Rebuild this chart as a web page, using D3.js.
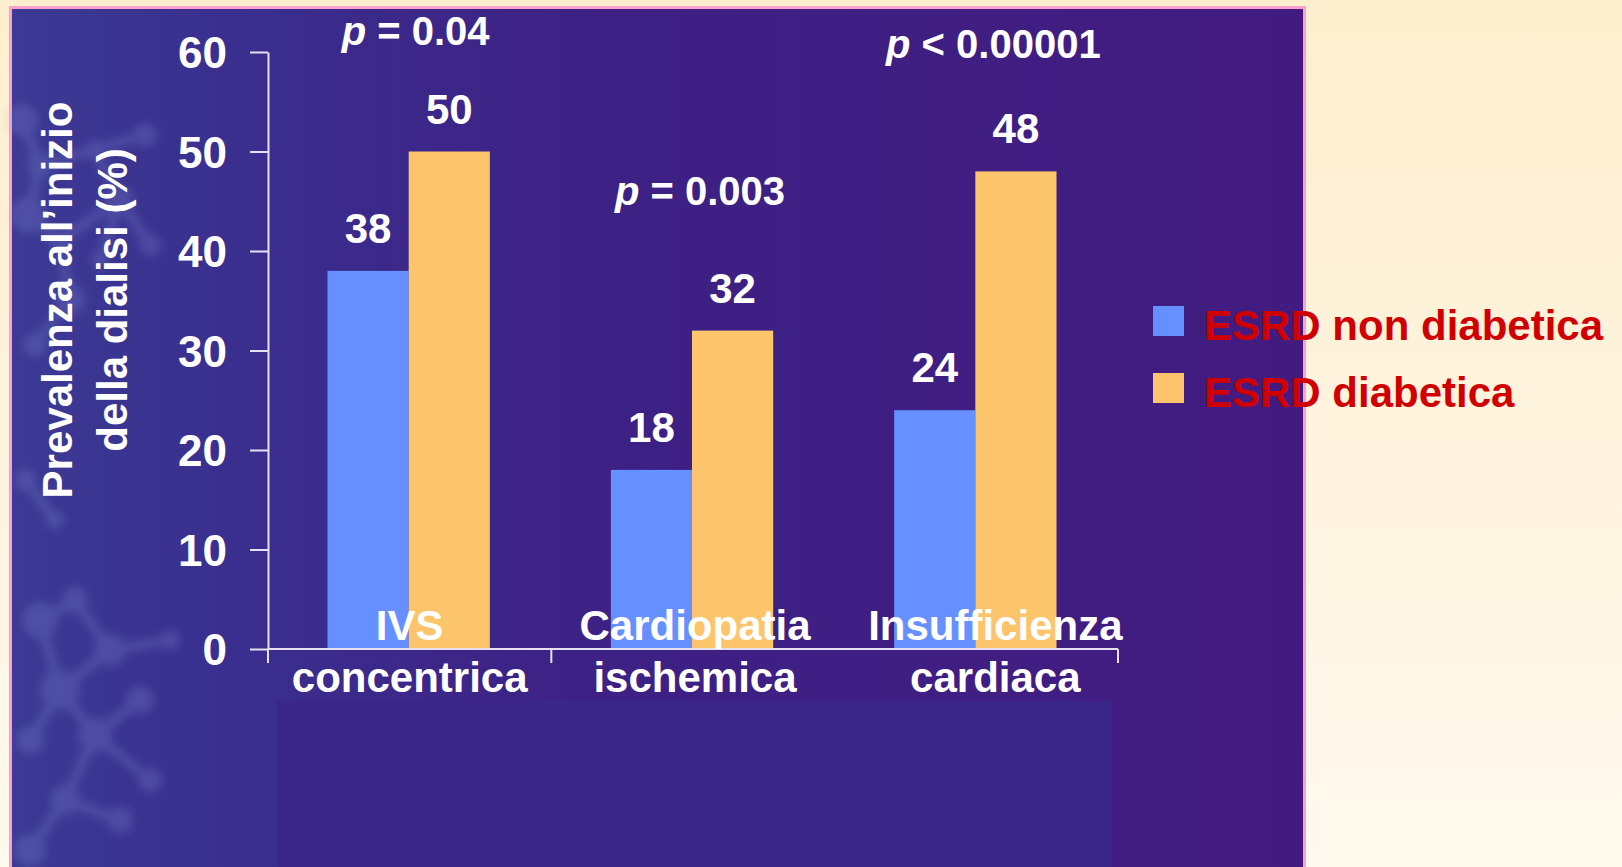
<!DOCTYPE html>
<html>
<head>
<meta charset="utf-8">
<script src="https://cdn.jsdelivr.net/npm/d3@7"></script>
<style>
  html, body { margin: 0; padding: 0; overflow: hidden; background: #fff5e0; }
  svg { display: block; }
  text { font-family: "Liberation Sans", Arial, Helvetica, sans-serif; font-weight: bold; }
</style>
</head>
<body>
<svg id="chart" width="1622" height="867"></svg>
<script>
// ---- data ----
const categories = ["IVS concentrica", "Cardiopatia ischemica", "Insufficienza cardiaca"];
const categoryLines = [["IVS", "concentrica"], ["Cardiopatia", "ischemica"], ["Insufficienza", "cardiaca"]];
const seriesNames = ["ESRD non diabetica", "ESRD diabetica"];
const nonDiabetic = [38, 18, 24];
const diabetic = [50, 32, 48];
const pValues = ["= 0.04", "= 0.003", "< 0.00001"];
const yTicks = [0, 10, 20, 30, 40, 50, 60];
const yTitle = ["Prevalenza all\u2019inizio", "della dialisi (%)"];

// ---- layout ----
const W = 1622, H = 867;
const panel = { x: 12, y: 9, w: 1291, h: H - 9 };
const plot = { left: 268, right: 1118, top: 52, bottom: 649 };
const seriesColors = ["#6690ff", "#fcc46b"];
const axisColor = "#e6e0f0";
const pLabelPos = [{ dx: 6, y: 45 }, { dx: 7, y: 205 }, { dx: 17, y: 58 }];
const catLabelDx = [0, 2, 19];

const svg = d3.select("#chart");
const defs = svg.append("defs");

// page background: warm cream gradient
const bgGrad = defs.append("linearGradient").attr("id", "pageBg")
  .attr("x1", 0).attr("y1", 0).attr("x2", 0).attr("y2", 1);
bgGrad.append("stop").attr("offset", "0%").attr("stop-color", "#fdeecd");
bgGrad.append("stop").attr("offset", "100%").attr("stop-color", "#fff9ee");
svg.append("rect").attr("width", W).attr("height", H).attr("fill", "url(#pageBg)");

// purple slide panel, bluer on the left
const panelGrad = defs.append("linearGradient").attr("id", "panelBg")
  .attr("x1", 0).attr("y1", 0).attr("x2", 1).attr("y2", 0);
panelGrad.append("stop").attr("offset", "0%").attr("stop-color", "#3b3a94");
panelGrad.append("stop").attr("offset", "18%").attr("stop-color", "#3a2e8e");
panelGrad.append("stop").attr("offset", "45%").attr("stop-color", "#3d2184");
panelGrad.append("stop").attr("offset", "100%").attr("stop-color", "#421b80");

svg.append("rect")
  .attr("x", panel.x - 3).attr("y", panel.y - 3)
  .attr("width", panel.w + 6).attr("height", panel.h + 6)
  .attr("fill", "#ff9fcc");
svg.append("rect")
  .attr("x", panel.x).attr("y", panel.y)
  .attr("width", panel.w).attr("height", panel.h)
  .attr("fill", "url(#panelBg)");

// faint molecule texture along the left edge of the panel
const blur = defs.append("filter").attr("id", "soft");
blur.append("feGaussianBlur").attr("stdDeviation", 4);
const atoms = [
  [22, 120, 16], [40, 165, 13], [28, 215, 18], [60, 240, 11], [95, 150, 10], [145, 135, 12],
  [120, 200, 14], [70, 300, 15], [35, 345, 12], [100, 260, 9], [150, 245, 11],
  [40, 620, 18], [75, 600, 13], [110, 650, 16], [60, 690, 20], [30, 740, 14],
  [95, 735, 17], [140, 700, 14], [150, 780, 12], [65, 800, 15], [120, 820, 13],
  [30, 850, 16], [170, 640, 10], [25, 480, 11], [55, 520, 9]
];
const bonds = [
  [0, 1], [1, 2], [2, 3], [1, 4], [4, 5], [4, 6], [3, 6], [3, 7], [7, 8], [6, 9], [6, 10],
  [11, 12], [12, 13], [11, 14], [13, 14], [14, 15], [14, 16], [16, 17], [16, 18], [16, 19],
  [19, 20], [19, 21], [13, 22], [23, 24]
];
const texture = svg.append("g").attr("filter", "url(#soft)").attr("opacity", 0.2);
texture.selectAll("line").data(bonds).join("line")
  .attr("x1", d => atoms[d[0]][0]).attr("y1", d => atoms[d[0]][1])
  .attr("x2", d => atoms[d[1]][0]).attr("y2", d => atoms[d[1]][1])
  .attr("stroke", "#9aa6e6").attr("stroke-width", 10);
texture.selectAll("circle").data(atoms).join("circle")
  .attr("cx", d => d[0]).attr("cy", d => d[1]).attr("r", d => d[2])
  .attr("fill", "#9aa6e6");

// slightly lighter block under the category labels
svg.append("rect")
  .attr("x", 277).attr("y", 701).attr("width", 835).attr("height", H - 701)
  .attr("fill", "#3a2589");

// ---- scales ----
const y = d3.scaleLinear().domain([0, 60]).range([plot.bottom, plot.top]);
const x0 = d3.scaleBand().domain(categories).range([plot.left, plot.right]).padding(0);
const bw = x0.bandwidth();
const x1 = d3.scaleBand().domain(seriesNames).range([bw * 0.21, bw * 0.783]).padding(0);
const color = d3.scaleOrdinal().domain(seriesNames).range(seriesColors);

const rows = categories.map((c, i) => ({
  cat: c,
  values: [
    { series: seriesNames[0], value: nonDiabetic[i] },
    { series: seriesNames[1], value: diabetic[i] }
  ]
}));

// ---- bars ----
const groups = svg.append("g").selectAll("g").data(rows).join("g")
  .attr("transform", d => `translate(${x0(d.cat)},0)`);

groups.selectAll("rect").data(d => d.values).join("rect")
  .attr("x", d => x1(d.series))
  .attr("y", d => y(d.value))
  .attr("width", x1.bandwidth())
  .attr("height", d => y(0) - y(d.value))
  .attr("fill", d => color(d.series));

// value labels above each bar
groups.selectAll("text.val").data(d => d.values).join("text")
  .attr("class", "val")
  .attr("x", d => x1(d.series) + x1.bandwidth() / 2)
  .attr("y", d => y(d.value) - 28)
  .attr("text-anchor", "middle")
  .attr("font-size", 42)
  .attr("fill", "#ffffff")
  .text(d => d.value);

// ---- axes ----
const yAxis = svg.append("g")
  .attr("transform", `translate(${plot.left},0)`)
  .call(d3.axisLeft(y).tickValues(yTicks).tickSize(18).tickSizeOuter(0).tickPadding(23));
yAxis.select(".domain").attr("stroke", axisColor).attr("stroke-width", 2);
yAxis.selectAll(".tick line").attr("stroke", axisColor).attr("stroke-width", 2);
yAxis.selectAll(".tick text")
  .attr("fill", "#ffffff")
  .attr("font-size", 44)
  .attr("font-family", "\"Liberation Sans\", Arial, sans-serif")
  .attr("font-weight", "bold")
  .attr("dy", "0.36em");

// category baseline and dividers
const axisG = svg.append("g");
axisG.append("line")
  .attr("x1", plot.left).attr("x2", plot.right)
  .attr("y1", y(0)).attr("y2", y(0))
  .attr("stroke", axisColor).attr("stroke-width", 2);
const dividers = [plot.left, x0(categories[1]), plot.right];
axisG.selectAll("line.div").data(dividers).join("line")
  .attr("class", "div")
  .attr("x1", d => d).attr("x2", d => d)
  .attr("y1", y(0)).attr("y2", y(0) + 14)
  .attr("stroke", axisColor).attr("stroke-width", 2);

// category labels (two lines each)
const catLabels = svg.append("g").selectAll("text").data(categoryLines).join("text")
  .attr("text-anchor", "middle")
  .attr("font-size", 42)
  .attr("fill", "#ffffff");
catLabels.each(function (lines, i) {
  const cx = x0(categories[i]) + bw / 2 + catLabelDx[i];
  d3.select(this).selectAll("tspan").data(lines).join("tspan")
    .attr("x", cx)
    .attr("y", (d, j) => 640 + j * 52)
    .text(d => d);
});

// significance labels
const pText = svg.append("g").selectAll("text").data(pValues).join("text")
  .attr("x", (d, i) => x0(categories[i]) + bw / 2 + pLabelPos[i].dx)
  .attr("y", (d, i) => pLabelPos[i].y)
  .attr("text-anchor", "middle")
  .attr("font-size", 40)
  .attr("fill", "#ffffff");
pText.append("tspan").attr("font-style", "italic").text("p");
pText.append("tspan").text(d => " " + d);

// y-axis title, rotated
svg.append("g").selectAll("text").data(yTitle).join("text")
  .attr("transform", (d, i) => `translate(${72 + i * 55},300) rotate(-90)`)
  .attr("text-anchor", "middle")
  .attr("font-size", 42)
  .attr("fill", "#ffffff")
  .text(d => d);

// ---- legend ----
const legend = svg.append("g").selectAll("g").data(seriesNames).join("g")
  .attr("transform", (d, i) => `translate(1153,${306 + i * 67})`);
legend.append("rect")
  .attr("width", 31).attr("height", 30)
  .attr("fill", d => color(d));
legend.append("text")
  .attr("x", 51).attr("y", 34)
  .attr("font-size", 42)
  .attr("fill", "#d00000")
  .text(d => d);
</script>
</body>
</html>
